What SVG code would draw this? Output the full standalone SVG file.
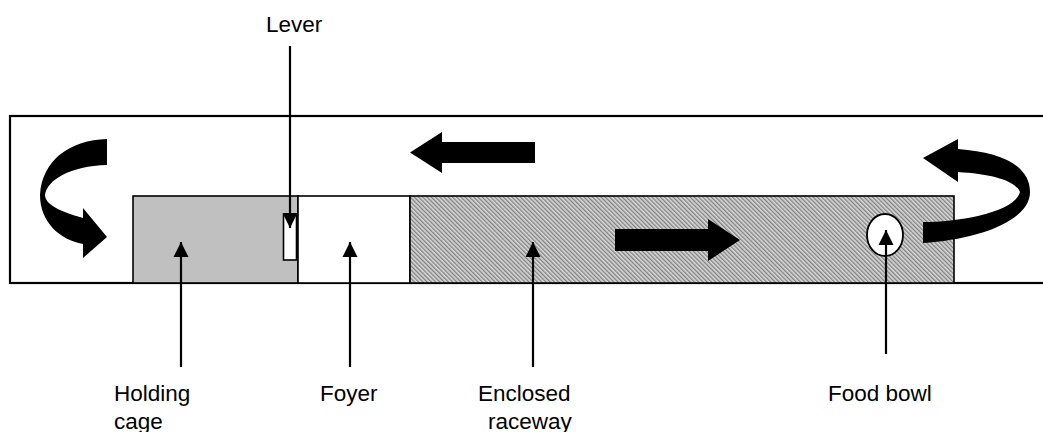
<svg xmlns="http://www.w3.org/2000/svg" width="1043" height="432" viewBox="0 0 1043 432">
  <style>
    .lbl { font-family: "Liberation Sans", Arial, sans-serif; font-size: 22.5px; fill: #000; }
    .pointer { stroke: #000; stroke-width: 2.2; fill: none; }
    .solid { fill: #000; stroke: none; }
    .box { stroke: #000; stroke-width: 1.6; }
  </style>
  <defs>
    <pattern id="hatch" width="3" height="3" patternUnits="userSpaceOnUse" patternTransform="rotate(-45)">
      <rect width="3" height="3" fill="#d8d8d8"/>
      <rect width="1.3" height="3" fill="#808080"/>
    </pattern>
    <marker id="head" viewBox="0 0 10 10" refX="10" refY="5" markerWidth="7" markerHeight="7" markerUnits="strokeWidth" orient="auto">
      <path d="M0,0 L10,5 L0,10 Z" fill="#000"/>
    </marker>
  </defs>

  <!-- outer track -->
  <g id="track">
    <rect x="10" y="116" width="1040" height="167" fill="#fff" stroke="#000" stroke-width="2.2"/>
  </g>

  <!-- compartments -->
  <g id="holding-cage">
    <rect class="box" x="133" y="196" width="165" height="87" fill="#c0c0c0"/>
  </g>
  <g id="foyer">
    <rect class="box" x="298" y="196" width="112" height="87" fill="#fff"/>
  </g>
  <g id="raceway">
    <rect class="box" x="410" y="196" width="544" height="87" fill="url(#hatch)"/>
  </g>
  <g id="lever">
    <rect x="283.5" y="215" width="13" height="45" fill="#fff" stroke="#000" stroke-width="1.6"/>
  </g>
  <g id="food-bowl">
    <ellipse cx="885" cy="235" rx="18" ry="21" fill="#fff" stroke="#000" stroke-width="1.8"/>
  </g>

  <!-- flow arrows -->
  <g id="flow">
    <path class="solid" d="M107,139 C70,140 42,160 40,195 C40,222 60,240 83,244 L83,258 L107,237 L83,208 L83,218 C62,212 45,205 45,195 C47,180 70,166 107,165 Z"/>
    <path class="solid" d="M923,222 C960,222 1015,212 1020,192 C1015,180 990,174 958,172 L958,182 L923,158 L958,139 L958,149 C1000,152 1030,165 1030,192 C1030,222 975,240 923,243 Z"/>
    <path class="solid" d="M535,142 L442,142 L442,132 L410,152.5 L442,173 L442,163 L535,163 Z"/>
    <path class="solid" d="M615,229 L708,229 L708,219 L740,240 L708,261 L708,251 L615,251 Z"/>
  </g>

  <!-- label pointers -->
  <g id="connectors">
    <line class="pointer" x1="290" y1="46" x2="290" y2="228" marker-end="url(#head)"/>
    <line class="pointer" x1="181" y1="367" x2="181" y2="242" marker-end="url(#head)"/>
    <line class="pointer" x1="350" y1="367" x2="350" y2="242" marker-end="url(#head)"/>
    <line class="pointer" x1="533" y1="367" x2="533" y2="242" marker-end="url(#head)"/>
    <line class="pointer" x1="886" y1="354" x2="886" y2="230" marker-end="url(#head)"/>
  </g>

  <!-- labels -->
  <g id="labels">
    <text class="lbl" x="114" y="401">Holding</text>
    <text class="lbl" x="114" y="429">cage</text>
    <text class="lbl" x="320" y="401">Foyer</text>
    <text class="lbl" x="478" y="401">Enclosed</text>
    <text class="lbl" x="488" y="429">raceway</text>
    <text class="lbl" x="828" y="401">Food bowl</text>
    <text class="lbl" x="266" y="32">Lever</text>
  </g>
</svg>
